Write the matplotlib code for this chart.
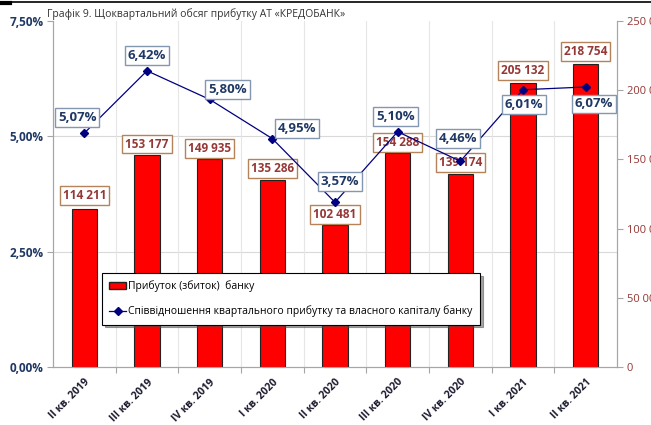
import matplotlib
matplotlib.use("Agg")
import matplotlib.pyplot as plt
import matplotlib.lines as mlines
import matplotlib.patches as mpatches
import numpy as np

plt.rcParams['font.family'] = ['Open Sans', 'DejaVu Sans']

# ── Дані ──────────────────────────────────────────────────────────────────────
quarters = ["II кв. 2019", "III кв. 2019", "IV кв. 2019", "I кв. 2020", "II кв. 2020",
            "III кв. 2020", "IV кв. 2020", "I кв. 2021", "II кв. 2021"]
profit = [114211, 153177, 149935, 135286, 102481, 154288, 139174, 205132, 218754]
ratio = [5.07, 6.42, 5.80, 4.95, 3.57, 5.10, 4.46, 6.01, 6.07]

left_ticks = [0, 2.5, 5.0, 7.5]
right_ticks = [0, 50000, 100000, 150000, 200000, 250000]

# зсув підписів (пікселі)
pct_offsets = [(-7, 16), (0, 15), (18, 10), (25, 10), (5, 21), (-2, 15), (-2, 23), (1, -15), (8, -17)]
bar_offsets = [13, 11, 11, 11, 11, 11, 12, 13, 13]

NAVY = "#1f3864"
DARKRED = "#953735"
GRID = "#d9d9d9"


def fmt_thousands(v):
    return f"{v:,.0f}".replace(",", " ")


fig = plt.figure(figsize=(6.51, 4.25), dpi=100)
ax2 = fig.add_axes([53 / 651, 1 - 367 / 425, 564 / 651, 346 / 425])   # стовпчики (права вісь)
ax = ax2.twinx()                                                       # лінія (ліва вісь)

x = np.arange(len(quarters))

# ── Стовпчики ─────────────────────────────────────────────────────────────────
ax2.bar(x, profit, width=0.4, color="#ff0000", edgecolor="#222222", linewidth=0.8, zorder=3)
ax2.set_ylim(0, 250000)
ax2.set_xlim(-0.5, len(quarters) - 0.5)
ax2.yaxis.tick_right()
ax2.set_yticks(right_ticks)
ax2.set_yticklabels([fmt_thousands(v) for v in right_ticks], color=DARKRED, fontsize=8)
for gv in [2.5, 5.0]:
    ax2.axhline(gv / 7.5 * 250000, color=GRID, lw=0.8, zorder=0)
for b in np.arange(0.5, len(quarters) - 1, 1):
    ax2.axvline(b, color="#e6e6e6", lw=0.8, zorder=0)

for i, v in enumerate(profit):
    ax2.annotate(fmt_thousands(v), (x[i], v), xytext=(0, bar_offsets[i]), textcoords="offset pixels",
                 ha="center", va="center", fontsize=8.5, fontweight="bold", color=DARKRED,
                 bbox=dict(boxstyle="square,pad=0.25", fc="white", ec="#b5835a", lw=1), zorder=5)

# ── Лінія ─────────────────────────────────────────────────────────────────────
ax.plot(x, ratio, color="#000080", lw=0.9, marker="D", markersize=4.5, zorder=4)
ax.set_ylim(0, 7.5)
ax.yaxis.tick_left()
ax.set_yticks(left_ticks)
ax.set_yticklabels([f"{v:.2f}%".replace(".", ",") for v in left_ticks],
                   color=NAVY, fontsize=8.5, fontweight="bold")

for i, v in enumerate(ratio):
    dx, dy = pct_offsets[i]
    ax.annotate(f"{v:.2f}%".replace(".", ","), (x[i], v), xytext=(dx, dy), textcoords="offset pixels",
                ha="center", va="center", fontsize=9.5, fontweight="bold", color=NAVY,
                bbox=dict(boxstyle="square,pad=0.22", fc="white", ec="#8497b0", lw=1), zorder=6)

# ── Осі ───────────────────────────────────────────────────────────────────────
for a in (ax, ax2):
    a.spines["top"].set_visible(False)
    for s in ("left", "right", "bottom"):
        a.spines[s].set_color("#a6a6a6")
    a.tick_params(axis="y", length=4, color="#a6a6a6", pad=3)

ax2.set_xticks(np.arange(0.5, len(quarters) - 1, 1))
ax2.set_xticklabels([])
ax2.set_xticks(x, minor=True)
ax2.set_xticklabels(quarters, minor=True, rotation=45, ha="right", va="top",
                    rotation_mode="anchor", fontsize=7.5, fontweight="bold", color="#1a1a2e")
ax2.tick_params(axis="x", which="major", length=4, color="#a6a6a6")
ax2.tick_params(axis="x", which="minor", length=0, pad=7)
ax.tick_params(axis="x", which="both", length=0, labelbottom=False)

# ── Легенда ───────────────────────────────────────────────────────────────────
h_bar = mpatches.Patch(facecolor="#ff0000", edgecolor="#222222", label="Прибуток (збиток)  банку")
h_line = mlines.Line2D([], [], color="#000080", lw=0.9, marker="D", markersize=4,
                       label="Співвідношення квартального прибутку та власного капіталу банку")
leg = ax.legend(handles=[h_bar, h_line], loc="upper left", bbox_to_anchor=(0.087, 0.272),
                fontsize=7.5, frameon=True, fancybox=False, shadow=True, borderpad=0.7,
                labelspacing=1.3, handlelength=1.6, handletextpad=0.2, borderaxespad=0)
leg.get_frame().set_edgecolor("black")
leg.get_frame().set_linewidth(0.8)
leg.set_zorder(10)

# ── Заголовок ─────────────────────────────────────────────────────────────────
fig.text(47 / 651, 1 - 14 / 425, "Графік 9. Щоквартальний обсяг прибутку АТ «КРЕДОБАНК»",
         fontsize=7.5, color="#333333", ha="left", va="center")
fig.add_artist(mlines.Line2D([0, 1], [1 - 2 / 425, 1 - 2 / 425], color="black", lw=1.2))
fig.add_artist(mlines.Line2D([0, 10 / 651], [1 - 3 / 425, 1 - 3 / 425], color="black", lw=3))

fig.savefig("out.png", dpi=100)
